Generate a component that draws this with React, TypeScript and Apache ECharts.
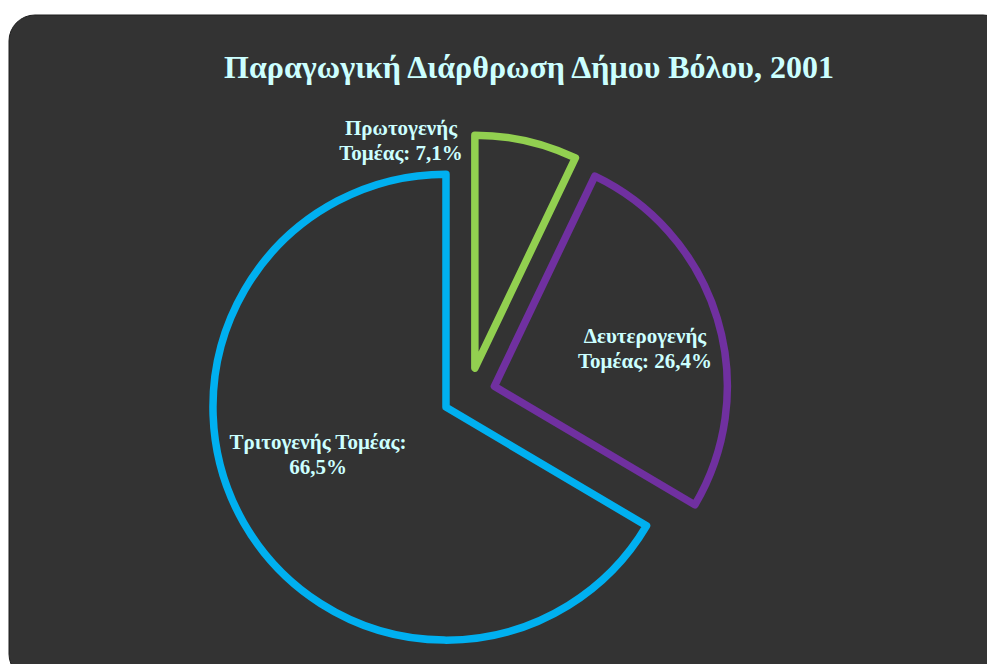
import React, { useEffect, useRef } from "react";
import * as echarts from "echarts";

const titleText = "Παραγωγική Διάρθρωση Δήμου Βόλου, 2001";
const sectors = ["Πρωτογενής Τομέας", "Δευτερογενής Τομέας", "Τριτογενής Τομέας"];
const shares = [7.1, 26.4, 66.5];
const sectorColors = ["#92D050", "#7030A0", "#00B0F0"];
// where the line break falls inside each label
const labelBreakAfterName = [false, false, true];

const labelColor = "#CCFFFF";
const fontSerif = "'Liberation Serif', 'Times New Roman', 'DejaVu Serif', serif";

export default function App() {
  const ref = useRef<HTMLDivElement>(null);

  useEffect(() => {
    if (!ref.current) return;
    const chart = echarts.init(ref.current, undefined, { renderer: "svg" });

    const fmt = (v: number) => v.toFixed(1).replace(".", ",") + "%";
    const labelText = (i: number) => {
      const parts = sectors[i].split(" ");
      const head = parts[0];
      const tail = parts.slice(1).join(" ");
      const val = fmt(shares[i]);
      return labelBreakAfterName[i] ? `${head} ${tail}:\n${val}` : `${head}\n${tail}: ${val}`;
    };
    const labelPos = [
      { x: 401, y: 140 },
      { x: 645, y: 348 },
      { x: 318, y: 454 },
    ];

    const data = sectors.map((name, i) => {
      const style = {
        color: "rgba(0,0,0,0)",
        borderColor: sectorColors[i],
        borderWidth: 7.5,
        borderJoin: "round" as const,
      };
      return {
        name,
        value: shares[i],
        selected: true,
        itemStyle: style,
        select: { itemStyle: style },
      };
    });

    chart.setOption({
      animation: false,
      backgroundColor: "#ffffff",
      graphic: [
        {
          type: "rect",
          z: -10,
          silent: true,
          shape: { x: 9, y: 15, width: 1000, height: 665, r: 26 },
          style: { fill: "#333333", stroke: "#1e1e1e", lineWidth: 1 },
        },
        ...sectors.map((_, i) => ({
          type: "text",
          z: 10,
          silent: true,
          x: labelPos[i].x,
          y: labelPos[i].y,
          style: {
            text: labelText(i),
            fill: labelColor,
            font: `bold 21px ${fontSerif}`,
            lineHeight: 25,
            align: "center",
            verticalAlign: "middle",
          },
        })),
      ],
      title: {
        text: titleText,
        left: 524,
        top: 46,
        textAlign: "center",
        textStyle: {
          color: labelColor,
          fontFamily: fontSerif,
          fontWeight: "bold",
          fontSize: 32,
        },
      },
      series: [
        {
          type: "pie",
          center: [469, 394],
          radius: [0, 233],
          startAngle: 90,
          clockwise: true,
          selectedMode: "multiple",
          selectedOffset: 26.5,
          avoidLabelOverlap: false,
          emphasis: { disabled: true },
          labelLine: { show: false },
          label: { show: false },
          data,
        },
      ],
    });

    return () => chart.dispose();
  }, []);

  return (
    <div
      ref={ref}
      style={{ position: "fixed", left: 0, top: 0, width: 987, height: 664 }}
    />
  );
}
